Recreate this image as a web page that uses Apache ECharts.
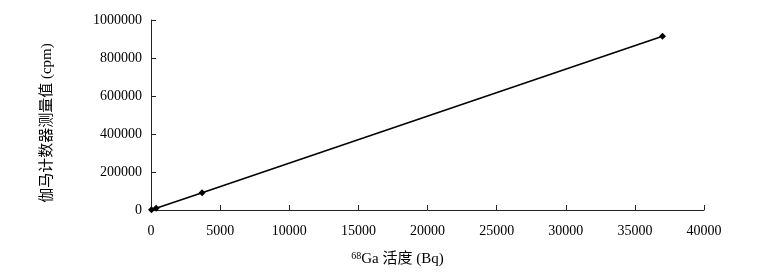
<!DOCTYPE html>
<html><head><meta charset="utf-8">
<script src="https://cdn.jsdelivr.net/npm/echarts@6/dist/echarts.min.js"></script>
<style>html,body{margin:0;padding:0;background:#fff}#c{width:769px;height:274px}</style>
</head><body><div id="c"></div>
<script>
const activityBq = [37, 370, 3700, 37000];
const countsCpm = [900, 9100, 91000, 915000];
const xTicks = [0, 5000, 10000, 15000, 20000, 25000, 30000, 35000, 40000];
const yTicks = [0, 200000, 400000, 600000, 800000, 1000000];
const xTitle = ['68', 'Ga 活度 (Bq)'];
const yTitle = '伽马计数器测量值 (cpm)';

const chart = echarts.init(document.getElementById('c'));
const serif = '"Liberation Serif","DejaVu Serif",serif';
chart.setOption({
  animation: false,
  backgroundColor: '#fff',
  grid: {left: 151, right: 65, top: 20, bottom: 64},
  xAxis: {
    type: 'value', min: xTicks[0], max: xTicks[xTicks.length-1], interval: 5000,
    name: '{sup|' + xTitle[0] + '}{t|' + xTitle[1] + '}',
    nameLocation: 'middle', nameGap: 41,
    nameTextStyle: {padding: [0, 60, 0, 0], rich: {
      sup: {fontSize: 10, verticalAlign: 'top', padding: [0,0,7,0], fontFamily: serif, color: '#000'},
      t: {fontSize: 15, fontFamily: serif + ',"Noto Sans CJK SC"', color: '#000'}
    }},
    axisLine: {lineStyle: {color: '#222', width: 1}},
    axisTick: {inside: true, length: 5, lineStyle: {color: '#222'}},
    axisLabel: {fontFamily: serif, fontSize: 14, color: '#000', margin: 14, formatter: v => String(v)},
    splitLine: {show: false}
  },
  yAxis: {
    type: 'value', min: yTicks[0], max: yTicks[yTicks.length-1], interval: 200000,
    name: yTitle, nameLocation: 'middle', nameGap: 96,
    nameTextStyle: {fontSize: 15, padding: [0, 16, 0, 0], fontFamily: serif + ',"Noto Sans CJK SC"', color: '#000'},
    axisLine: {show: true, lineStyle: {color: '#222', width: 1}},
    axisTick: {show: true, inside: true, length: 5, lineStyle: {color: '#222'}},
    axisLabel: {fontFamily: serif, fontSize: 14, color: '#000', margin: 9, formatter: v => String(v)},
    splitLine: {show: false}
  },
  series: [{
    type: 'line',
    data: activityBq.map((x, i) => [x, countsCpm[i]]),
    symbol: 'diamond', symbolSize: 7,
    lineStyle: {color: '#000', width: 1.6},
    itemStyle: {color: '#000'}
  }]
});
</script></body></html>
